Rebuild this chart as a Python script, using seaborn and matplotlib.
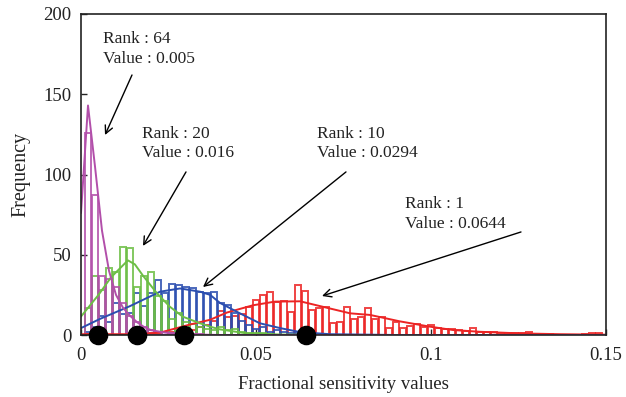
import numpy as np
import pandas as pd
import matplotlib
matplotlib.use("Agg")
import matplotlib.pyplot as plt
import seaborn as sns

# ---------------- data ----------------
bin_width = 0.002
first_edge = 0.0009

rank64_counts = [126, 87, 37, 35, 30, 20, 12, 8, 5, 3, 2, 2, 1, 1, 1, 0.5, 0.5]
rank20_counts = [17, 37, 28, 42, 39, 55, 54, 30, 37, 39, 24, 21, 10, 14, 8, 7, 5, 4, 3, 5,
                 3, 4, 2, 1, 1, 1, 0.5]
rank10_counts = [2, 5, 12, 8, 20, 13, 14, 26, 18, 26, 34, 26, 32, 31, 30, 29, 27, 26, 27, 20,
                 19, 14, 9, 6, 4, 5, 2, 3, 2, 1, 1, 1, 0.5]
rank1_counts = [0.5, 0.5, 0, 0, 0, 0, 1, 0, 1, 1, 1, 2, 2, 3, 3,
                3, 5, 6, 9, 15, 11, 12, 13, 17.6,
                21.8, 25, 27, 20.4, 21.4, 14.5, 31, 27.6, 15.6, 16.6, 17.2, 7.3, 8.3, 17.2,
                9.8, 11.4, 16.6, 9.8, 11.4, 4.2, 8.3, 4.2, 5.6, 6.8, 5, 6,
                4.2, 3.5, 3.5, 3.1, 2.7, 4.2, 2, 1.7, 1.7, 1.5, 1.5, 1.2, 1, 1.7,
                0.5, 0.5, 0.5, 0.3, 0.3, 0, 0.3, 0.5, 1, 1, 0.3]

rank64_curve_x = [0, 0.002, 0.004, 0.006, 0.008, 0.010, 0.012, 0.014, 0.016, 0.018, 0.020, 0.024, 0.028, 0.04, 0.15]
rank64_curve_y = [76, 143, 105, 65, 40, 25, 17, 12, 8, 5, 3, 1.5, 0.5, 0, 0]

rank20_curve_x = [0, 0.005, 0.0086, 0.0134, 0.0154, 0.0177, 0.0217, 0.0254, 0.0291, 0.034, 0.0369, 0.0397, 0.0474, 0.057, 0.07, 0.15]
rank20_curve_y = [11.5, 25, 36, 46.5, 44, 37, 26, 17.6, 11.4, 7.3, 5.2, 3.5, 1, 0.3, 0, 0]

rank10_curve_x = [0, 0.0054, 0.014, 0.0226, 0.0283, 0.034, 0.0369, 0.0397, 0.0454, 0.0511, 0.0569, 0.0626, 0.0711, 0.09, 0.15]
rank10_curve_y = [4.3, 10, 18, 27, 29, 27, 25, 20, 13.5, 7.3, 4.3, 1.8, 0.5, 0, 0]

rank1_curve_x = [0, 0.014, 0.0197, 0.0226, 0.0311, 0.0369, 0.0417, 0.0491, 0.0554, 0.0626, 0.0683, 0.0769,
                 0.0826, 0.0911, 0.0997, 0.1063, 0.1140, 0.1254, 0.1369, 0.15]
rank1_curve_y = [0.5, 0.5, 1, 1.5, 6.5, 9.5, 14, 18.5, 20.8, 21, 18, 13.5, 12.5, 8.5, 5.2, 3.1, 2, 1, 0.5, 0.2]

dot_values = [0.005, 0.016, 0.0294, 0.0644]

labels = ["Rank : 64\nValue : 0.005", "Rank : 20\nValue : 0.016",
          "Rank : 10\nValue : 0.0294", "Rank : 1\nValue : 0.0644"]
label_x = [0.00629, 0.01743, 0.06743, 0.09257]
label_y = [178.2, 119.3, 119.3, 75.4]
arrow_tail_x = [0.01457, 0.0300, 0.07571, 0.12571]
arrow_tail_y = [162.0, 101.6, 101.6, 64.2]
arrow_head_x = [0.00686, 0.01771, 0.03486, 0.06886]
arrow_head_y = [124.6, 55.5, 29.9, 24.3]

xticks = [0, 0.05, 0.1, 0.15]
xtick_labels = ["0", "0.05", "0.1", "0.15"]
yticks = [0, 50, 100, 150, 200]

colors = {"r64": "#B24FAA", "r20": "#6CBE45", "r10": "#2B4EB0", "r1": "#EC2424"}

# ---------------- plot ----------------
sns.set_theme(style="ticks")
plt.rcParams["font.family"] = ["Liberation Serif", "DejaVu Serif"]
plt.rcParams["xtick.direction"] = "in"
plt.rcParams["ytick.direction"] = "in"

fig = plt.figure(figsize=(6.26, 3.97), dpi=100)
ax = fig.add_axes([81 / 626, 1 - 335 / 397, 525 / 626, 321 / 397])

edges = [first_edge + bin_width * i for i in range(76)]

def hist(counts, color):
    n = len(counts)
    centers = [edges[i] + bin_width / 2 for i in range(n)]
    df = pd.DataFrame({"x": centers, "w": counts})
    sns.histplot(data=df, x="x", weights="w", bins=edges[:n + 1], fill=False,
                 element="bars", shrink=0.86, color=color, linewidth=1.4, alpha=0.85, ax=ax)

hist(rank1_counts, colors["r1"])
hist(rank10_counts, colors["r10"])
hist(rank20_counts, colors["r20"])
hist(rank64_counts, colors["r64"])

sns.lineplot(x=rank1_curve_x, y=rank1_curve_y, color=colors["r1"], linewidth=1.4, ax=ax)
sns.lineplot(x=rank10_curve_x, y=rank10_curve_y, color=colors["r10"], linewidth=1.4, ax=ax)
sns.lineplot(x=rank20_curve_x, y=rank20_curve_y, color=colors["r20"], linewidth=1.4, ax=ax)
sns.lineplot(x=rank64_curve_x, y=rank64_curve_y, color=colors["r64"], linewidth=1.4, ax=ax)

sns.scatterplot(x=dot_values, y=[0] * len(dot_values), s=170, color="black",
                edgecolor="black", clip_on=False, zorder=10, ax=ax)

for t, tx, ty, ax0, ay0, hx, hy in zip(labels, label_x, label_y, arrow_tail_x, arrow_tail_y,
                                         arrow_head_x, arrow_head_y):
    ax.text(tx, ty, t, ha="left", va="center", fontsize=12.5, linespacing=1.3, color="#222222")
    ax.annotate("", xy=(hx, hy), xytext=(ax0, ay0),
                arrowprops=dict(arrowstyle="->", color="black", lw=1.0,
                                mutation_scale=14, shrinkA=0, shrinkB=0))

ax.set_xlim(0, 0.15)
ax.set_ylim(0, 200)
ax.set_xticks(xticks)
ax.set_xticklabels(xtick_labels)
ax.set_yticks(yticks)
ax.tick_params(labelsize=13.5, length=4, width=1, colors="#222222")
ax.tick_params(axis="x", pad=9)
ax.tick_params(axis="y", pad=7)
ax.set_xlabel("Fractional sensitivity values", fontsize=13.5, color="#222222", labelpad=8)
ax.set_ylabel("Frequency", fontsize=14.5, color="#222222", labelpad=9)
for s in ax.spines.values():
    s.set_visible(True)
    s.set_color("#222222")
    s.set_linewidth(1.2)

fig.savefig("out.png", dpi=100)
